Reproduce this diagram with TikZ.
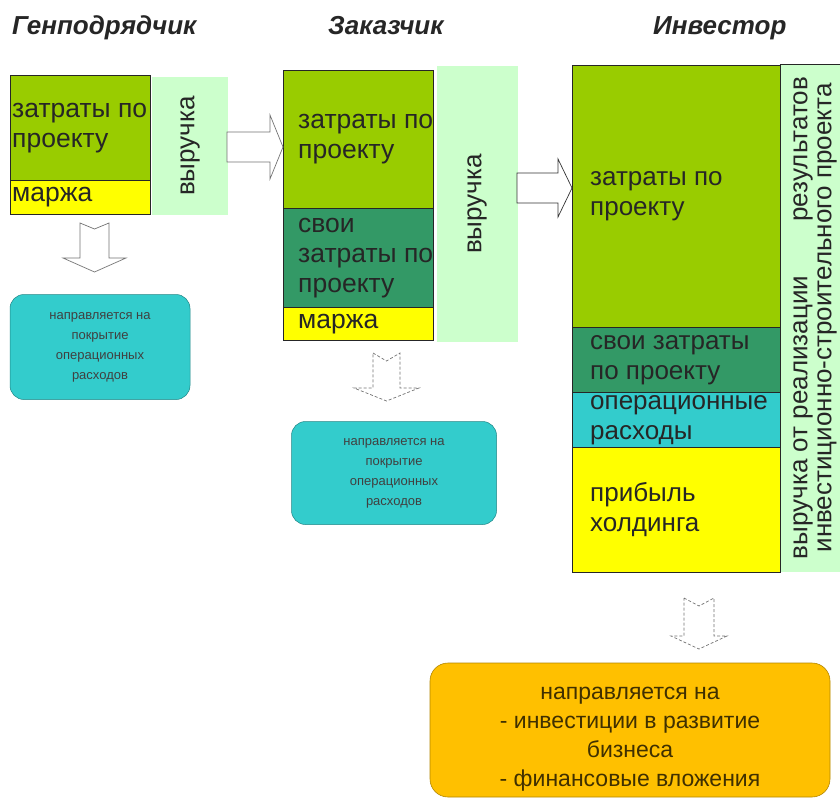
\documentclass[tikz,border=0pt]{standalone}
\usepackage{fontspec}
\setmainfont{Liberation Sans}
\usepackage{tikz}

\definecolor{costgreen}{HTML}{99CC00}
\definecolor{owngreen}{HTML}{339966}
\definecolor{marginyellow}{HTML}{FFFF00}
\definecolor{opcyan}{HTML}{33CCCC}
\definecolor{revgreen}{HTML}{CCFFCC}
\definecolor{goldbox}{HTML}{FFC000}
\definecolor{ink}{HTML}{262626}

\newcommand{\headfont}{\fontsize{26}{30}\selectfont\bfseries\itshape}
\newcommand{\segfont}{\fontsize{26.5}{30}\selectfont}
\newcommand{\invfont}{\fontsize{26}{30}\selectfont}
\newcommand{\revfont}{\fontsize{26}{24}\selectfont}
\newcommand{\notefont}{\fontsize{13}{20}\selectfont}
\newcommand{\goldfont}{\fontsize{23}{29}\selectfont}

\tikzset{
	head/.style={anchor=base west, inner sep=0pt, font=\headfont, text=ink},
	part/.style={draw=black!85, line width=0.7pt, anchor=north west, inner sep=0pt},
	parttext/.style={anchor=west, align=left, inner sep=0pt, font=\segfont, text=ink},
	rev/.style={fill=revgreen, rotate=90, inner sep=0pt, font=\revfont, text=ink, align=center},
	note/.style={fill=opcyan, draw=opcyan!65!black, line width=0.5pt, rounded corners=14pt, align=center, font=\notefont, text=black!75},
	goldnote/.style={fill=goldbox, draw=goldbox!70!black, line width=0.6pt, rounded corners=18pt},
	goldtext/.style={align=center, inner sep=0pt, font=\goldfont, text=black!75!goldbox},
	blockarrow/.style={draw=black!55, fill=white, line width=0.7pt, line join=miter},
}

\begin{document}
\begin{tikzpicture}[x=1pt, y=-1pt]
				\useasboundingbox (0,0) rectangle (840,802);
				\clip (0,0) rectangle (840,802);
				
				% titles
				\node[head] (gpTitle) at (12,35) {Генподрядчик};
				\node[head] (zkTitle) at (328,35) {Заказчик};
				\node[head] (invTitle) at (653,35) {Инвестор};
				
				% general contractor
				\node[rev, minimum width=138pt, minimum height=76pt] (gpRev) at (190,146) {выручка};
				\node[part, fill=costgreen, minimum width=140pt, minimum height=105pt] (gpCost) at (10,75) {};
				\node[part, fill=marginyellow, minimum width=140pt, minimum height=34pt] (gpMargin) at (10,180) {};
				\node[parttext] (gpCostText) at ([xshift=2pt]gpCost.west) {затраты по\\проекту};
				\node[parttext] (gpMarginText) at ([xshift=2pt]gpMargin.west) {маржа};
				\node[note, minimum width=180pt, minimum height=105pt] (gpNote) at (100,347) {направляется на\\покрытие\\операционных\\расходов};
				
				% customer
				\node[rev, minimum width=275pt, minimum height=81pt] (zkRev) at (477,204) {выручка};
				\node[part, fill=costgreen, minimum width=150pt, minimum height=138pt] (zkCost) at (283,70) {};
				\node[part, fill=owngreen, minimum width=150pt, minimum height=99pt] (zkOwn) at (283,208) {};
				\node[part, fill=marginyellow, minimum width=150pt, minimum height=33pt] (zkMargin) at (283,307) {};
				\node[parttext] (zkCostText) at ([xshift=15pt]zkCost.west) {затраты по\\проекту};
				\node[parttext] (zkOwnText) at ([xshift=15pt]zkOwn.west) {свои\\затраты по\\проекту};
				\node[parttext] (zkMarginText) at ([xshift=15pt]zkMargin.west) {маржа};
				\node[note, minimum width=205pt, minimum height=103pt] (zkNote) at (394,473) {направляется на\\покрытие\\операционных\\расходов};
				
				% investor
				\node[rev, minimum width=507pt, minimum height=70pt] (invRev) at (815,318) {\hbox to 482pt{выручка от реализации\hfil результатов}\\инвестиционно-строительного проекта};
				\draw[black!85, line width=0.7pt] (invRev.north east) -- (invRev.south east);
				\node[part, fill=costgreen, minimum width=208pt, minimum height=262pt] (invCost) at (572,65) {};
				\node[part, fill=owngreen, minimum width=208pt, minimum height=65pt] (invOwn) at (572,327) {};
				\node[part, fill=opcyan, minimum width=208pt, minimum height=55pt] (invOp) at (572,392) {};
				\node[part, fill=marginyellow, minimum width=208pt, minimum height=125pt] (invProfit) at (572,447) {};
				\node[parttext, font=\invfont] (invCostText) at ([xshift=18pt]invCost.west) {затраты по\\проекту};
				\node[parttext, font=\invfont] (invOwnText) at ([xshift=18pt]invOwn.west) {свои затраты\\по проекту};
				\node[parttext, font=\invfont] (invOpText) at ([xshift=18pt]invOp.west) {операционные\\расходы};
				\node[parttext, font=\invfont] (invProfitText) at ([xshift=18pt]invProfit.west) {прибыль\\холдинга};
				\node[goldnote, minimum width=400pt, minimum height=134pt] (invNote) at (630,730) {};
				\node[goldtext] (invNoteText) at ([yshift=-9pt]invNote.center) {направляется на\\- инвестиции в развитие\\бизнеса\\- финансовые вложения};
				
				% block arrows
				\draw[blockarrow] (227,132) -- (270,132) -- (270,115) -- (283,147) -- (270,179) -- (270,162) -- (227,162) -- cycle;
				\draw[blockarrow, draw=black!80] (517,173) -- (558,173) -- (558,159) -- (572,188) -- (558,217) -- (558,203) -- (517,203) -- cycle;
				\draw[blockarrow] (80,223) -- (94.5,229) -- (109,223) -- (109,258) -- (126,258) -- (94.5,272) -- (63,258) -- (80,258) -- cycle;
				\draw[blockarrow, densely dashed] (373,353) -- (386.5,361) -- (400,353) -- (400,388) -- (419,388) -- (386.5,401) -- (354,388) -- (373,388) -- cycle;
				\draw[blockarrow, densely dashed] (684,598) -- (699,606) -- (714,598) -- (714,636) -- (727,636) -- (699,649) -- (671,636) -- (684,636) -- cycle;
			\end{tikzpicture}
\end{document}
